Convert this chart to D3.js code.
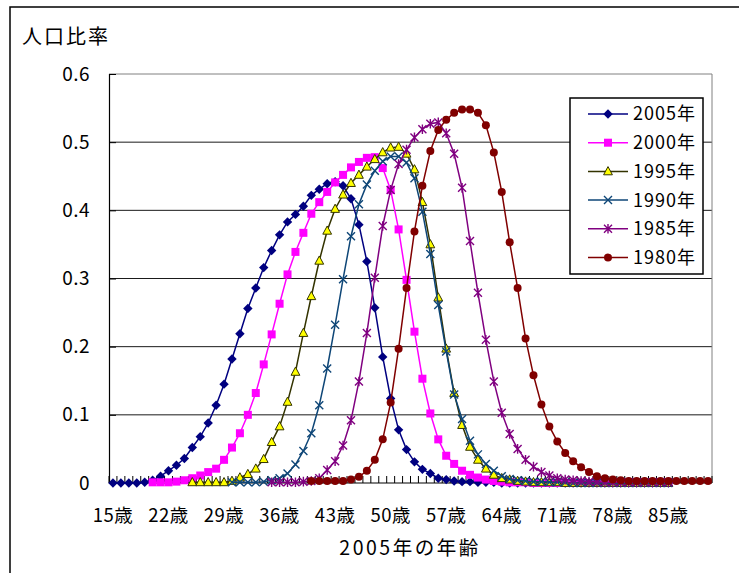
<!DOCTYPE html>
<html>
<head>
<meta charset="utf-8">
<script src="https://cdn.jsdelivr.net/npm/d3@7"></script>
<style>
  body { margin: 0; background: #fff; }
  svg { display: block; }
  text { font-family: "Noto Sans CJK JP", "Noto Sans", sans-serif; fill: #000; }
</style>
</head>
<body>
<svg id="chart" width="739" height="573"></svg>
<script>
// Age categories (age in 2005)
const ages = [15,16,17,18,19,20,21,22,23,24,25,26,27,28,29,30,31,32,33,34,35,36,37,38,39,
  40,41,42,43,44,45,46,47,48,49,50,51,52,53,54,55,56,57,58,59,60,61,62,63,64,
  65,66,67,68,69,70,71,72,73,74,75,76,77,78,79,80,81,82,83,84,85,86,87,88,89,90];
const tickAges = [15,22,29,36,43,50,57,64,71,78,85];
const yTicks = [0,0.1,0.2,0.3,0.4,0.5,0.6];

const seriesNames = ["2005年","2000年","1995年","1990年","1985年","1980年"];
const startAges = [15,20,25,30,35,40];

// Population ratio per age, each series starting at its start age
const s2005 = [0,0,0,0,0.001, 0.004,0.010,0.018,0.026,0.036,
  0.052,0.068,0.088,0.114,0.145, 0.182,0.219,0.256,0.286,0.316,
  0.341,0.364,0.383,0.394,0.406, 0.422,0.431,0.439,0.442,0.436,
  0.417,0.379,0.325,0.257,0.185, 0.124,0.078,0.049,0.031,0.020,
  0.014,0.007,0.005,0.003,0.002, 0.002,0.001,0.001,0.001,0,
  0,0,0,0,0, 0,0,0,0,0, 0,0,0,0,0, 0,0,0,0,0, 0];
const s2000 = [0.001,0.001,0.001,0.002,0.004,
  0.007,0.011,0.016,0.021,0.034, 0.052,0.073,0.100,0.132,0.174,
  0.218,0.263,0.306,0.339,0.367, 0.395,0.412,0.427,0.441,0.452,
  0.463,0.471,0.477,0.478,0.462, 0.430,0.372,0.298,0.222,0.153,
  0.102,0.064,0.040,0.028,0.018, 0.012,0.008,0.005,0.003,0.002,
  0.001,0.001,0.001,0,0, 0,0,0,0,0, 0,0,0,0,0, 0,0,0,0,0, 0];
const s1995 = [0.001,0.001,0.001,0.001,0.001,
  0.003,0.008,0.013,0.021,0.035, 0.060,0.083,0.119,0.163,0.220,
  0.274,0.326,0.370,0.402,0.423, 0.440,0.452,0.464,0.475,0.485,
  0.492,0.493,0.483,0.460,0.412, 0.350,0.272,0.197,0.132,0.085,
  0.053,0.034,0.021,0.012,0.007, 0.005,0.003,0.002,0.001,0.001,
  0.001,0.001,0,0,0, 0,0,0,0,0, 0,0,0,0,0, 0];
const s1990 = [0.001,0.001,0.001,0.001,0.002,
  0.004,0.007,0.014,0.027,0.047, 0.073,0.114,0.168,0.232,0.299,
  0.362,0.409,0.438,0.458,0.472, 0.479,0.479,0.470,0.447,0.398,
  0.336,0.261,0.193,0.130,0.094, 0.062,0.042,0.028,0.018,0.010,
  0.006,0.004,0.003,0.002,0.002, 0.001,0.001,0.001,0,0,
  0,0,0,0,0, 0,0,0,0,0, 0];
const s1985 = [0.001,0.001,0.001,0.001,0.002,
  0.003,0.007,0.019,0.032,0.055, 0.092,0.149,0.220,0.301,0.377,
  0.430,0.468,0.489,0.507,0.519, 0.527,0.529,0.513,0.483,0.433,
  0.355,0.279,0.210,0.149,0.103, 0.072,0.050,0.034,0.024,0.016,
  0.011,0.007,0.005,0.004,0.003, 0.002,0.002,0.001,0.001,0.001,
  0.001,0.001,0.001,0.001,0.001, 0.001];
const s1980 = [0.003,0.003,0.003,0.003,0.003,
  0.005,0.009,0.018,0.034,0.064, 0.118,0.197,0.286,0.369,0.436,
  0.487,0.518,0.533,0.543,0.548, 0.548,0.543,0.525,0.485,0.427,
  0.353,0.286,0.212,0.158,0.115, 0.083,0.061,0.044,0.032,0.023,
  0.016,0.010,0.007,0.005,0.004, 0.003,0.003,0.003,0.003,0.003,
  0.003,0.003,0.003,0.003,0.003, 0.003];
const seriesValues = [s2005, s2000, s1995, s1990, s1985, s1980];

// Styles for each series
const styles = [
  { line: "#000080", fill: "#000080", stroke: "#000080", shape: "diamond" },
  { line: "#ff00ff", fill: "#ff00ff", stroke: "#ff00ff", shape: "square" },
  { line: "#333300", fill: "#ffff00", stroke: "#333300", shape: "triangle" },
  { line: "#0e4677", fill: "none",    stroke: "#0e4677", shape: "cross" },
  { line: "#800080", fill: "none",    stroke: "#800080", shape: "star" },
  { line: "#800000", fill: "#800000", stroke: "#800000", shape: "circle" }
];

const svg = d3.select("#chart");
const W = 739, H = 573;
const plot = { left: 109, top: 74, right: 712, bottom: 483 };
const FONT = '"Noto Sans CJK JP", "Noto Sans", sans-serif';

svg.append("rect").attr("width", W).attr("height", H).attr("fill", "#fff");
// chart frame
svg.append("rect").attr("x", 10).attr("y", 7).attr("width", W + 20).attr("height", H + 20)
  .attr("fill", "none").attr("stroke", "#000").attr("stroke-width", 1.5);

const x = d3.scaleBand().domain(ages).range([plot.left, plot.right]).paddingInner(0).paddingOuter(0);
const cx = a => x(a) + x.bandwidth() / 2;
const y = d3.scaleLinear().domain([0, 0.6]).range([plot.bottom, plot.top]);

// gridlines
svg.append("g").selectAll("line").data(yTicks.filter(v => v > 0 && v < 0.6)).join("line")
  .attr("x1", plot.left).attr("x2", plot.right)
  .attr("y1", d => y(d)).attr("y2", d => y(d))
  .attr("stroke", "#1a1a1a").attr("stroke-width", 1);

// plot area border (top and right)
svg.append("path")
  .attr("d", `M${plot.left},${y(0.6)}H${plot.right}V${plot.bottom}`)
  .attr("fill", "none").attr("stroke", "#808080").attr("stroke-width", 1);

// y axis
const yAxis = svg.append("g").attr("transform", `translate(${plot.left},0)`)
  .call(d3.axisLeft(y).tickValues(yTicks).tickSize(-7).tickPadding(19)
    .tickFormat(d => d === 0 ? "0" : d3.format(".1f")(d)));
yAxis.select(".domain").attr("stroke", "#000").attr("stroke-width", 1.2);
yAxis.selectAll(".tick line").attr("stroke", "#000");
yAxis.selectAll("text").attr("font-size", 19).attr("letter-spacing", 0.5).style("font-family", FONT);

// x axis labels
const xAxis = svg.append("g").attr("transform", `translate(0,${plot.bottom})`)
  .call(d3.axisBottom(x).tickValues(tickAges).tickSize(0).tickPadding(26)
    .tickFormat(d => d + "歳"));
xAxis.select(".domain").remove();
xAxis.selectAll("text").attr("font-size", 18.5).attr("letter-spacing", 0.5).style("font-family", FONT);

// category tick marks (inside)
const bounds = ages.map(a => x(a)).concat([plot.right]);
svg.append("g").selectAll("line").data(bounds).join("line")
  .attr("x1", d => d).attr("x2", d => d)
  .attr("y1", plot.bottom - 7).attr("y2", plot.bottom)
  .attr("stroke", "#000").attr("stroke-width", 1);
svg.append("line").attr("x1", plot.left).attr("x2", plot.right)
  .attr("y1", plot.bottom).attr("y2", plot.bottom)
  .attr("stroke", "#000").attr("stroke-width", 1.2);

// marker drawing
function marker(g, shape, st, px, py) {
  if (shape === "diamond") {
    const r = 4.7;
    g.append("path").attr("d", `M${px},${py - r}L${px + r},${py}L${px},${py + r}L${px - r},${py}Z`)
      .attr("fill", st.fill);
  } else if (shape === "square") {
    g.append("rect").attr("x", px - 4).attr("y", py - 4).attr("width", 8).attr("height", 8)
      .attr("fill", st.fill);
  } else if (shape === "triangle") {
    g.append("path").attr("d", `M${px},${py - 4.8}L${px + 4.4},${py + 3.4}L${px - 4.4},${py + 3.4}Z`)
      .attr("fill", st.fill).attr("stroke", st.stroke).attr("stroke-width", 1);
  } else if (shape === "cross") {
    g.append("path").attr("d", `M${px - 4},${py - 4}L${px + 4},${py + 4}M${px + 4},${py - 4}L${px - 4},${py + 4}`)
      .attr("stroke", st.stroke).attr("stroke-width", 1.4).attr("fill", "none");
  } else if (shape === "star") {
    g.append("path").attr("d", `M${px - 4},${py - 4}L${px + 4},${py + 4}M${px + 4},${py - 4}L${px - 4},${py + 4}M${px},${py - 4.8}V${py + 4.8}`)
      .attr("stroke", st.stroke).attr("stroke-width", 1.4).attr("fill", "none");
  } else if (shape === "circle") {
    g.append("circle").attr("cx", px).attr("cy", py).attr("r", 4).attr("fill", st.fill);
  }
}

// series lines and markers, later years drawn on top
const line = d3.line().x(d => cx(d.age)).y(d => y(d.v));
seriesValues.forEach((vals, i) => {
  const pts = vals.map((v, k) => ({ age: startAges[i] + k, v }));
  const st = styles[i];
  const g = svg.append("g");
  g.append("path").datum(pts).attr("d", line)
    .attr("fill", "none").attr("stroke", st.line).attr("stroke-width", 1.5);
  pts.forEach(p => marker(g, st.shape, st, cx(p.age), y(p.v)));
});

// legend
const lg = svg.append("g");
lg.append("rect").attr("x", 570).attr("y", 98).attr("width", 133).attr("height", 176)
  .attr("fill", "#fff").attr("stroke", "#000").attr("stroke-width", 1.5);
seriesNames.forEach((name, i) => {
  const ly = 114 + i * 28.7;
  const st = styles[i];
  lg.append("line").attr("x1", 588).attr("x2", 628).attr("y1", ly).attr("y2", ly)
    .attr("stroke", st.line).attr("stroke-width", 1.5);
  marker(lg, st.shape, st, 608, ly);
  lg.append("text").attr("x", 633).attr("y", ly).attr("dy", "0.36em")
    .attr("font-size", 18).attr("letter-spacing", 1).text(name);
});

// axis titles
svg.append("text").attr("x", 22).attr("y", 44).attr("font-size", 20)
  .attr("letter-spacing", 2).text("人口比率");
svg.append("text").attr("x", 410).attr("y", 555).attr("text-anchor", "middle")
  .attr("font-size", 19.5).attr("letter-spacing", 2.5).text("2005年の年齢");
</script>
</body>
</html>
